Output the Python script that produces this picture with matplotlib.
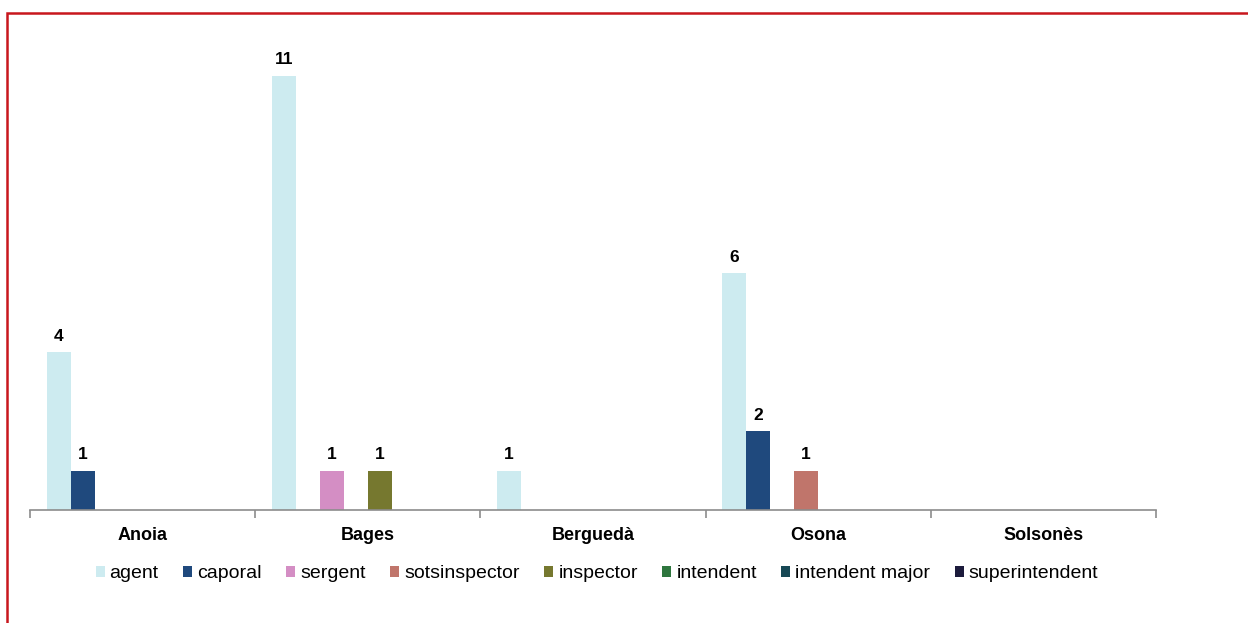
import matplotlib
matplotlib.use("Agg")
import matplotlib.pyplot as plt
import matplotlib.patches as mpatches
import numpy as np

plt.rcParams['font.family'] = ['Liberation Sans', 'DejaVu Sans']

categories = ["Anoia", "Bages", "Berguedà", "Osona", "Solsonès"]
series_names = ["agent", "caporal", "sergent", "sotsinspector", "inspector",
                "intendent", "intendent major", "superintendent"]
agent = [4, 11, 1, 6, 0]
caporal = [1, 0, 0, 2, 0]
sergent = [0, 1, 0, 0, 0]
sotsinspector = [0, 0, 0, 1, 0]
inspector = [0, 1, 0, 0, 0]
intendent = [0, 0, 0, 0, 0]
intendent_major = [0, 0, 0, 0, 0]
superintendent = [0, 0, 0, 0, 0]
values = [agent, caporal, sergent, sotsinspector, inspector,
          intendent, intendent_major, superintendent]
colors = ["#CDEBF0", "#1F497D", "#D48EC4", "#C0756B", "#76782F",
          "#2E763E", "#174855", "#1C1B3C"]

fig = plt.figure(figsize=(12.48, 6.23), dpi=100)
ax = fig.add_axes([30/1248, 1-510/623, (1156-30)/1248, (510-36)/623])

x = np.arange(len(categories))
w = 0.1066
n = len(series_names)
for i, (name, vals, c) in enumerate(zip(series_names, values, colors)):
    pos = x + (i - (n-1)/2) * w
    ax.bar(pos, vals, width=w, color=c, label=name, linewidth=0)
    for p, v in zip(pos, vals):
        if v > 0:
            ax.annotate(str(v), (p, v), xytext=(0, 6), textcoords='offset points',
                        ha='center', va='bottom', fontsize=12.5, fontweight='bold')

ax.set_xlim(-0.5, len(categories)-0.5)
ax.set_ylim(0, 12)
ax.set_yticks([])
for s in ['top', 'right', 'left']:
    ax.spines[s].set_visible(False)
ax.spines['bottom'].set_color('#8c8c8c')
ax.spines['bottom'].set_linewidth(1.2)
ax.set_xticks(x)
ax.set_xticklabels(categories, fontsize=13, fontweight='bold')
ax.tick_params(axis='x', which='major', length=0, pad=12.5)
ax.set_xticks(np.arange(-0.5, len(categories)), minor=True)
ax.tick_params(axis='x', which='minor', length=6, color='#8c8c8c', width=1.2)

fig.legend(loc='center', bbox_to_anchor=(597/1248, 1-574/623), ncol=8,
           frameon=False, fontsize=14, handlelength=0.46, handleheight=0.46,
           handletextpad=0.26, columnspacing=1.26, borderpad=0, borderaxespad=0)

rect = mpatches.Rectangle((7/1248, -0.2), 1.2, 1.2 - 13/623, transform=fig.transFigure,
                          fill=False, edgecolor='#C8161D', linewidth=1.8, clip_on=False)
fig.patches.append(rect)

fig.savefig("out.png", dpi=100)
